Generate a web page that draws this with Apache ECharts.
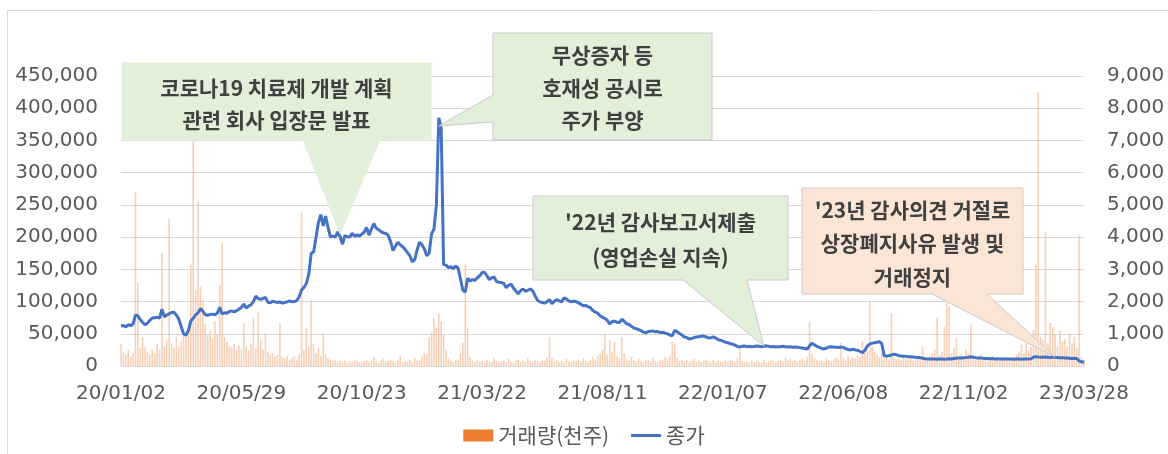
<!DOCTYPE html>
<html><head><meta charset="utf-8">
<script src="https://cdn.jsdelivr.net/npm/echarts@6/dist/echarts.min.js"></script>
<style>html,body{margin:0;padding:0;background:#fff}#c{width:1168px;height:454px}</style>
</head><body><div id="c"></div>
<script>
// x tick labels every 100 trading days (day index 0..800)
const tickLabels = ['20/01/02','20/05/29','20/10/23','21/03/22','21/08/11','22/01/07','22/06/08','22/11/02','23/03/28'];
const stepDays = 2; // one sample every 2 trading days
// closing price (right axis)
const price = [
1240,1260,1210,1280,1250,1300,1580,1560,1440,1350,
1280,1330,1420,1490,1500,1510,1490,1760,1530,1580,
1620,1660,1670,1580,1460,1220,1000,960,1100,1400,
1480,1590,1650,1780,1700,1590,1570,1600,1610,1590,
1640,1820,1620,1650,1640,1690,1710,1680,1720,1760,
1820,1920,1800,1860,1900,2000,2170,2090,2070,2100,
2130,1980,1960,2010,1990,1970,1990,1950,1970,1990,
2020,1990,2000,2030,2150,2360,2440,2560,2850,3500,
3540,3990,4450,4700,4350,4650,4300,4010,4030,4000,
4160,4020,3780,4050,4010,4000,4120,4030,4070,4030,
4090,4150,4300,4060,4250,4420,4280,4230,4170,4130,
4110,4060,3850,3580,3720,3840,3760,3700,3620,3520,
3420,3230,3300,3600,3840,3760,3640,3420,3500,4100,
4250,5000,7700,7400,3150,3130,3050,3080,3020,3100,
3040,2700,2350,2300,2720,2640,2680,2660,2740,2800,
2900,2910,2800,2680,2740,2760,2620,2600,2590,2560,
2430,2500,2540,2420,2330,2240,2340,2390,2320,2350,
2390,2330,2180,2040,1990,1970,1950,2000,2060,1930,
2010,2060,2020,1990,2110,2080,2020,1990,2010,2000,
1960,1920,1870,1880,1840,1810,1720,1670,1640,1560,
1510,1480,1420,1310,1380,1390,1360,1350,1450,1390,
1310,1290,1230,1180,1160,1130,1100,1050,1030,1070,
1080,1090,1060,1070,1040,1050,1020,1000,960,940,
1110,1060,1010,960,900,880,840,850,880,900,
910,920,930,900,870,880,900,870,820,800,
770,740,720,700,680,650,610,590,610,620,
600,610,595,605,620,610,600,615,625,610,
600,605,590,600,595,610,600,590,595,585,
590,580,570,560,545,530,620,710,660,610,
580,545,530,550,590,600,590,585,575,585,
580,540,510,500,520,500,490,450,410,490,
620,680,710,720,740,750,700,320,310,320,
340,370,350,320,310,300,305,290,285,280,
270,265,255,240,225,220,215,220,215,210,
215,220,210,215,225,220,230,240,245,250,
255,260,270,285,275,260,250,245,240,235,
230,225,230,220,225,220,215,220,215,220,
215,210,220,215,210,215,220,215,225,270,
290,280,275,270,280,270,265,275,270,260,
255,260,250,245,240,235,240,230,160,125,
125];
// trading volume (left axis)
const volume = [
35000,22000,18000,25000,15000,20000,270000,130000,28000,45000,
30000,22000,18000,26000,20000,35000,24000,175000,30000,40000,
228000,35000,28000,45000,30000,38000,55000,48000,60000,157000,
348000,118000,255000,123000,102000,65000,48000,55000,42000,70000,
50000,126000,191000,45000,38000,30000,28000,35000,25000,32000,
27000,67000,30000,24000,35000,74000,28000,85000,40000,26000,
51000,22000,18000,20000,15000,17000,67000,14000,12000,16000,
10000,12000,15000,9000,18000,238000,25000,59000,30000,102000,
35000,20000,28000,15000,51000,18000,12000,10000,8000,9000,
7000,8000,6000,9000,5000,7000,6000,10000,8000,6000,
5000,7000,9000,6000,8000,14000,7000,5000,9000,12000,
6000,8000,10000,7000,5000,9000,15000,6000,8000,7000,
10000,6000,12000,8000,9000,14000,20000,18000,45000,52000,
75000,60000,82000,70000,48000,25000,12000,8000,6000,9000,
10000,20000,36000,157000,59000,14000,8000,6000,9000,7000,
8000,5000,10000,7000,6000,12000,8000,5000,7000,9000,
6000,11000,7000,5000,8000,10000,6000,9000,7000,12000,
8000,6000,9000,7000,5000,10000,8000,14000,45000,12000,
7000,9000,6000,8000,5000,11000,7000,6000,9000,8000,
10000,7000,12000,8000,6000,9000,14000,10000,16000,20000,
25000,48000,18000,40000,22000,38000,15000,12000,45000,20000,
10000,8000,14000,9000,7000,11000,8000,6000,10000,9000,
7000,12000,8000,6000,10000,9000,14000,11000,16000,37000,
35000,12000,8000,10000,7000,9000,6000,8000,11000,7000,
9000,6000,8000,10000,7000,5000,9000,6000,8000,7000,
6000,9000,7000,10000,8000,6000,12000,25000,8000,6000,
7000,5000,9000,6000,8000,7000,5000,10000,6000,8000,
9000,7000,6000,8000,10000,7000,12000,9000,11000,8000,
10000,7000,9000,12000,8000,14000,68000,18000,12000,9000,
8000,10000,7000,12000,9000,8000,11000,14000,10000,36000,
12000,9000,15000,10000,13000,11000,16000,14000,39000,20000,
25000,100000,30000,22000,18000,14000,20000,12000,15000,10000,
82000,14000,10000,12000,9000,16000,11000,10000,13000,8000,
10000,12000,9000,30000,14000,11000,16000,20000,25000,75000,
18000,22000,61000,98000,92000,20000,28000,43000,15000,18000,
12000,25000,20000,64000,16000,14000,12000,18000,10000,13000,
9000,11000,15000,10000,12000,8000,14000,11000,9000,13000,
12000,15000,18000,22000,33000,20000,36000,25000,30000,56000,
157000,425000,45000,40000,208000,35000,67000,61000,48000,30000,
55000,38000,42000,30000,50000,35000,45000,28000,203000,15000,
10000];
// annotations: text lines and the data point each one points at
const notes = [
  {lines:['코로나19 치료제 개발 계획','관련 회사 입장문 발표'], day:182, value:4100},
  {lines:['무상증자 등','호재성 공시로','주가 부양'], day:264, value:7450},
  {lines:["'22년 감사보고서제출",'(영업손실 지속)'], day:534, value:620},
  {lines:["'23년 감사의견 거절로",'상장폐지사유 발생 및','거래정지'], day:776, value:280}
];
// layout of the callout boxes (pixels)
const boxes = [
  {box:[122,63,431,140], side:'bottom', a:303, b:380, fill:'#E2F0D9', stroke:'#E2F0D9', ys:[88,120]},
  {box:[493,33,712,140], side:'left', a:95, b:122, fill:'#E2F0D9', stroke:'#c9c9c9', ys:[55,88,120]},
  {box:[533,196,788,280], side:'bottom', a:683, b:747, fill:'#E2F0D9', stroke:'#c9c9c9', ys:[222,257]},
  {box:[802,188,1023,294], side:'bottom', a:932, b:987, fill:'#FBE5D6', stroke:'#c9c9c9', ys:[210,243,277]}
];

const chart = echarts.init(document.getElementById('c'));
const fmt = v => String(v).replace(/\B(?=(\d{3})+(?!\d))/g, ',');
const labelFont = "'DejaVu Sans','Noto Sans CJK KR',sans-serif";
const priceData = price.map((p,i)=>[i*stepDays, p]);
const volData = volume.map((v,i)=>[i*stepDays, v]);
chart.setOption({
  animation:false,
  grid:{left:121, right:84, top:76, bottom:88},
  xAxis:{type:'value', min:0, max:(tickLabels.length-1)*100, interval:100,
    axisLine:{show:true, lineStyle:{color:'#d9d9d9'}}, axisTick:{show:false}, splitLine:{show:false},
    axisLabel:{formatter:v=>tickLabels[Math.round(v/100)]||'', color:'#595959', fontSize:20, fontFamily:labelFont, margin:18, showMinLabel:true, showMaxLabel:true}},
  yAxis:[
    {type:'value', min:0, max:450000, interval:50000, position:'left',
     axisLine:{show:false}, axisTick:{show:false}, splitLine:{lineStyle:{color:'#d9d9d9'}},
     axisLabel:{formatter:fmt, color:'#595959', fontSize:20, fontFamily:labelFont, margin:23}},
    {type:'value', min:0, max:9000, interval:1000, position:'right',
     axisLine:{show:false}, axisTick:{show:false}, splitLine:{show:false},
     axisLabel:{formatter:fmt, color:'#595959', fontSize:20, fontFamily:labelFont, margin:23}}
  ],
  legend:{top:420, left:'center', itemWidth:30, itemHeight:12, itemGap:22,
    textStyle:{color:'#595959', fontSize:21, fontFamily:"'Noto Sans CJK KR',sans-serif"},
    data:[{name:'거래량(천주)', icon:'rect', itemStyle:{color:'#ED7D31', opacity:1}},
          {name:'종가', icon:'path://M0,0 L30,0 L30,3 L0,3 Z', itemStyle:{color:'#4472C4'}}]},
  series:[
    {name:'거래량(천주)', type:'bar', yAxisIndex:0, data:volData, barWidth:1.6,
     itemStyle:{color:'#F4B183', opacity:0.6}, z:2},
    {name:'종가', type:'line', yAxisIndex:1, data:priceData, symbol:'none',
     lineStyle:{color:'#4472C4', width:3}, itemStyle:{color:'#4472C4'}, z:3}
  ]
});

const g = [{type:'rect', silent:true, z:-10, shape:{x:7.5,y:10.5,width:1170,height:460}, style:{fill:'none', stroke:'#d9d9d9', lineWidth:1}}];
notes.forEach((n,k)=>{
  const L = boxes[k];
  const tip = chart.convertToPixel({xAxisIndex:0, yAxisIndex:1}, [n.day, n.value]);
  const [x0,y0,x1,y1] = L.box;
  let pts;
  if (L.side==='bottom') pts=[[x0,y0],[x1,y0],[x1,y1],[L.b,y1],tip,[L.a,y1],[x0,y1]];
  else pts=[[x0,y0],[x1,y0],[x1,y1],[x0,y1],[x0,L.b],tip,[x0,L.a]];
  g.push({type:'polygon', z:100, shape:{points:pts}, style:{fill:L.fill, stroke:L.stroke, lineWidth:1}});
  const cx=(x0+x1)/2;
  n.lines.forEach((t,j)=>{
    g.push({type:'text', z:101, x:cx, y:L.ys[j], style:{text:t, fill:'#404040', font:"bold 21px 'Noto Sans CJK KR', sans-serif", align:'center', verticalAlign:'middle'}});
  });
});
chart.setOption({graphic:g});
</script></body></html>
